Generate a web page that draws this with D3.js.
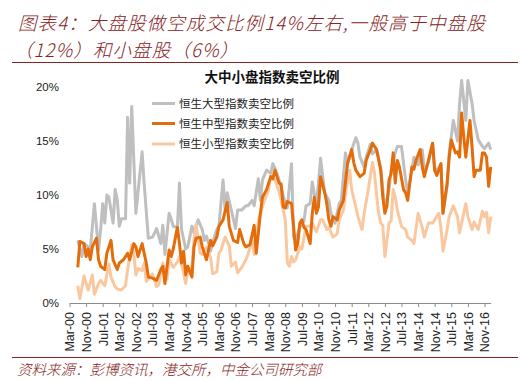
<!DOCTYPE html>
<html><head><meta charset="utf-8">
<script src="https://cdn.jsdelivr.net/npm/d3@7"></script>
<style>body{margin:0;background:#fff}svg{display:block}</style>
</head><body>
<svg id="c" width="520" height="381"></svg>
<script>
// ---- texts ----
const titleLine1 = "图表4：大盘股做空成交比例14%左右,一般高于中盘股";
const titleLine2 = "（12%）和小盘股（6%）";
const chartTitle = "大中小盘指数卖空比例";
const sourceText = "资料来源：彭博资讯，港交所，中金公司研究部";
const seriesNames = ["恒生大型指数卖空比例", "恒生中型指数卖空比例", "恒生小型指数卖空比例"];
const xTickLabels = ["Mar-00","Nov-00","Jul-01","Mar-02","Nov-02","Jul-03","Mar-04","Nov-04","Jul-05","Mar-06","Nov-06","Jul-07","Mar-08","Nov-08","Jul-09","Mar-10","Nov-10","Jul-11","Mar-12","Nov-12","Jul-13","Mar-14","Nov-14","Jul-15","Mar-16","Nov-16"];
const yTicks = [0, 5, 10, 15, 20];

// ---- series: [month, short-selling ratio %] ----
const largeCap = [["2000-07",5.8],["2000-09",4.3],["2000-10",5.5],["2000-12",5.2],["2001-01",4.9],["2001-03",9.2],["2001-05",4.9],["2001-06",6.8],["2001-07",9.2],["2001-08",7.4],["2001-09",10.0],["2001-10",9.8],["2001-12",7.4],["2002-01",10.5],["2002-02",9.6],["2002-03",7.1],["2002-04",7.8],["2002-06",7.8],["2002-07",17.2],["2002-08",11.1],["2002-09",18.2],["2002-11",8.3],["2002-12",10.2],["2003-02",14.0],["2003-03",11.0],["2003-05",6.0],["2003-07",6.1],["2003-08",6.5],["2003-09",6.9],["2003-11",5.5],["2003-12",7.2],["2004-01",4.5],["2004-03",8.3],["2004-04",7.8],["2004-05",7.1],["2004-07",7.0],["2004-08",11.1],["2004-09",6.8],["2004-11",5.0],["2004-12",5.2],["2005-02",7.1],["2005-03",6.5],["2005-05",7.7],["2005-07",6.8],["2005-08",5.8],["2005-09",6.2],["2005-11",4.8],["2005-12",5.6],["2006-02",6.8],["2006-03",7.1],["2006-05",11.4],["2006-06",8.6],["2006-07",10.2],["2006-09",8.6],["2006-11",6.9],["2006-12",8.6],["2007-02",8.6],["2007-04",9.0],["2007-05",9.0],["2007-07",9.5],["2007-08",9.0],["2007-10",11.5],["2007-11",9.5],["2007-12",11.4],["2008-02",12.3],["2008-04",12.0],["2008-05",12.9],["2008-07",12.0],["2008-08",11.4],["2008-11",9.2],["2008-12",8.8],["2009-02",12.9],["2009-03",6.1],["2009-04",5.8],["2009-06",7.0],["2009-08",7.6],["2009-09",9.0],["2009-11",9.2],["2009-12",11.2],["2010-02",9.0],["2010-04",13.4],["2010-06",10.2],["2010-08",9.5],["2010-09",8.3],["2010-11",7.4],["2011-01",9.2],["2011-02",9.5],["2011-04",13.9],["2011-05",12.9],["2011-07",14.2],["2011-09",15.3],["2011-10",14.8],["2011-11",13.5],["2012-01",12.6],["2012-02",13.5],["2012-04",14.7],["2012-05",13.8],["2012-07",14.2],["2012-09",12.5],["2012-11",8.6],["2013-01",10.5],["2013-02",12.3],["2013-04",13.9],["2013-05",14.5],["2013-07",14.5],["2013-09",11.4],["2013-10",10.2],["2013-12",12.3],["2014-01",13.5],["2014-03",12.8],["2014-05",14.2],["2014-06",12.3],["2014-08",13.0],["2014-10",14.8],["2014-11",12.3],["2015-01",12.5],["2015-02",12.9],["2015-03",8.3],["2015-05",10.8],["2015-06",13.9],["2015-08",16.9],["2015-10",15.0],["2015-11",18.5],["2015-12",20.6],["2016-02",16.9],["2016-03",20.6],["2016-05",18.5],["2016-06",16.9],["2016-08",15.1],["2016-10",14.5],["2016-11",14.3],["2017-01",14.8],["2017-02",14.2]];

const midCap = [["2000-07",3.3],["2000-08",5.7],["2000-10",5.5],["2000-11",4.3],["2000-12",5.0],["2001-01",4.0],["2001-02",5.2],["2001-04",6.0],["2001-05",4.0],["2001-06",3.4],["2001-08",3.1],["2001-09",4.6],["2001-10",5.2],["2001-11",5.8],["2001-12",4.0],["2002-02",3.1],["2002-03",3.7],["2002-05",4.0],["2002-06",4.3],["2002-07",4.6],["2002-08",4.0],["2002-10",5.5],["2002-11",5.2],["2002-12",4.3],["2003-02",5.5],["2003-03",4.6],["2003-04",3.7],["2003-05",2.4],["2003-07",2.3],["2003-09",2.1],["2003-11",3.1],["2003-12",3.4],["2004-01",1.8],["2004-03",4.9],["2004-04",4.3],["2004-05",5.0],["2004-07",7.0],["2004-08",5.5],["2004-09",3.7],["2004-10",4.8],["2004-11",2.6],["2004-12",3.4],["2005-02",2.4],["2005-03",5.2],["2005-04",6.0],["2005-06",6.1],["2005-07",5.2],["2005-09",4.0],["2005-11",5.8],["2005-12",5.3],["2006-02",6.1],["2006-03",7.1],["2006-05",7.7],["2006-07",9.3],["2006-08",7.1],["2006-10",5.8],["2006-12",5.6],["2007-01",6.8],["2007-03",5.5],["2007-04",5.2],["2007-06",5.4],["2007-08",7.2],["2007-09",4.6],["2007-11",8.3],["2007-12",9.8],["2008-02",10.5],["2008-04",11.7],["2008-05",11.5],["2008-06",12.3],["2008-08",11.1],["2008-09",11.0],["2008-10",8.9],["2008-11",8.8],["2008-12",9.4],["2009-02",9.2],["2009-03",7.1],["2009-04",4.9],["2009-05",5.5],["2009-06",7.4],["2009-07",7.7],["2009-08",7.0],["2009-09",6.8],["2009-11",5.5],["2009-12",8.3],["2010-01",9.8],["2010-02",8.3],["2010-03",8.9],["2010-04",11.7],["2010-06",10.2],["2010-07",9.2],["2010-08",7.7],["2010-09",7.1],["2010-10",8.0],["2010-12",7.7],["2011-01",8.6],["2011-03",9.5],["2011-05",12.9],["2011-07",14.2],["2011-08",13.0],["2011-09",12.3],["2011-11",11.7],["2012-01",12.0],["2012-02",13.2],["2012-04",14.2],["2012-05",14.8],["2012-07",14.2],["2012-09",12.3],["2012-10",9.8],["2012-11",8.3],["2012-12",9.0],["2013-01",11.4],["2013-02",12.0],["2013-03",13.9],["2013-04",11.1],["2013-05",13.2],["2013-06",12.6],["2013-08",10.5],["2013-09",10.2],["2013-10",9.5],["2013-12",12.6],["2014-01",12.4],["2014-02",13.2],["2014-04",14.2],["2014-05",12.6],["2014-06",11.7],["2014-08",13.2],["2014-10",14.8],["2014-11",12.3],["2014-12",11.8],["2015-02",12.9],["2015-03",8.3],["2015-05",11.1],["2015-06",13.5],["2015-07",15.1],["2015-09",13.9],["2015-10",14.0],["2015-11",13.5],["2015-12",17.6],["2016-01",15.4],["2016-02",13.5],["2016-04",16.9],["2016-05",14.5],["2016-06",11.7],["2016-07",12.3],["2016-09",12.3],["2016-10",13.9],["2016-11",13.9],["2016-12",13.5],["2017-01",10.8],["2017-02",12.6]];

const smallCap = [["2000-07",1.6],["2000-08",0.4],["2000-10",2.5],["2000-12",1.2],["2001-02",2.6],["2001-03",0.8],["2001-05",1.8],["2001-06",2.1],["2001-08",1.6],["2001-10",3.6],["2001-11",2.4],["2002-01",1.5],["2002-02",1.3],["2002-04",1.2],["2002-06",1.6],["2002-07",3.1],["2002-09",5.4],["2002-10",4.5],["2002-11",2.6],["2002-12",3.2],["2003-02",3.0],["2003-03",3.7],["2003-04",2.0],["2003-05",2.2],["2003-07",2.7],["2003-09",1.5],["2003-10",1.7],["2003-12",3.7],["2004-02",2.2],["2004-03",4.0],["2004-05",3.3],["2004-07",3.8],["2004-08",4.3],["2004-10",2.8],["2004-11",1.8],["2004-12",2.8],["2005-02",3.4],["2005-03",5.8],["2005-04",7.3],["2005-06",4.6],["2005-07",4.5],["2005-09",5.2],["2005-11",4.2],["2005-12",2.7],["2006-02",2.9],["2006-03",4.6],["2006-04",4.9],["2006-06",6.1],["2006-08",5.3],["2006-09",3.4],["2006-11",3.8],["2006-12",2.8],["2007-02",3.3],["2007-04",4.0],["2007-05",4.5],["2007-07",5.8],["2007-08",4.5],["2007-09",4.8],["2007-10",7.7],["2007-12",8.9],["2008-01",9.5],["2008-03",10.5],["2008-04",11.8],["2008-06",11.4],["2008-08",10.3],["2008-09",9.5],["2008-11",7.7],["2008-12",3.7],["2009-01",3.4],["2009-02",4.3],["2009-03",3.8],["2009-04",4.0],["2009-06",5.2],["2009-07",5.0],["2009-09",7.1],["2009-11",7.1],["2009-12",7.4],["2010-02",6.6],["2010-04",7.7],["2010-05",7.7],["2010-07",6.8],["2010-08",7.0],["2010-10",6.1],["2010-12",6.4],["2011-01",7.7],["2011-03",8.6],["2011-05",11.4],["2011-06",12.3],["2011-07",10.5],["2011-09",8.9],["2011-10",8.0],["2011-12",6.8],["2012-01",8.3],["2012-03",10.5],["2012-05",13.0],["2012-06",12.0],["2012-07",10.0],["2012-08",8.3],["2012-09",7.4],["2012-10",7.2],["2012-11",4.3],["2013-01",7.4],["2013-02",7.6],["2013-03",10.5],["2013-04",9.8],["2013-05",8.6],["2013-07",7.1],["2013-09",6.8],["2013-10",6.1],["2013-12",5.8],["2014-01",5.5],["2014-03",8.3],["2014-05",7.0],["2014-06",6.1],["2014-08",7.4],["2014-10",7.4],["2014-11",7.7],["2015-01",8.3],["2015-02",7.0],["2015-03",4.8],["2015-05",6.8],["2015-06",8.0],["2015-08",9.0],["2015-10",8.0],["2015-11",6.5],["2016-01",8.3],["2016-02",9.2],["2016-03",8.0],["2016-05",6.8],["2016-06",7.5],["2016-08",6.8],["2016-10",8.5],["2016-11",8.0],["2016-12",8.4],["2017-01",6.5],["2017-02",8.0]];

const colors = ["#BFBFBF", "#E46C0A", "#FAC8A0"];

// ---- drawing ----
const svg = d3.select("#c");
const red = "#862222";
const cjk = "'Noto Sans CJK SC', 'Noto Sans', sans-serif";

const monthIndex = s => { const [y, m] = s.split("-").map(Number); return (y - 2000) * 12 + (m - 3); };

const x = d3.scaleLinear().domain([0, 203]).range([69.5, 490.7]);
const y = d3.scaleLinear().domain([0, 20]).range([303, 87]);

// title
svg.append("text").attr("x", 18).attr("y", 29.5).attr("fill", red)
  .attr("font-family", cjk).attr("font-size", 18.5).attr("font-weight", 300).attr("font-style", "italic")
  .attr("letter-spacing", 1.1).text(titleLine1);
svg.append("text").attr("x", 14).attr("y", 57).attr("fill", red)
  .attr("font-family", cjk).attr("font-size", 18.5).attr("font-weight", 300).attr("font-style", "italic")
  .attr("letter-spacing", 1.1).text(titleLine2);
svg.append("line").attr("x1", 12).attr("x2", 518).attr("y1", 62.5).attr("y2", 62.5).attr("stroke", red).attr("stroke-width", 1);

// chart title
svg.append("text").attr("x", 272).attr("y", 82).attr("text-anchor", "middle")
  .attr("font-family", cjk).attr("font-weight", "bold").attr("font-size", 13.5).attr("fill", "#111").text(chartTitle);

// axes
const xAxis = d3.axisBottom(x)
  .tickValues(xTickLabels.map((d, i) => i * 8))
  .tickFormat((d, i) => xTickLabels[i])
  .tickSize(4).tickSizeOuter(0);
const gx = svg.append("g").attr("transform", "translate(0,303)").call(xAxis);
gx.select(".domain").attr("stroke", "#8c8c8c");
gx.selectAll(".tick line").attr("stroke", "#8c8c8c");
gx.selectAll("text")
  .attr("transform", "rotate(-90)")
  .attr("text-anchor", "end")
  .attr("x", -9).attr("y", 0).attr("dy", "0.35em")
  .attr("font-family", "'Liberation Sans', Arial, sans-serif").attr("font-size", 12.5).attr("fill", "#222");

const yAxis = d3.axisLeft(y).tickValues(yTicks).tickFormat(d => d + "%").tickSize(0).tickPadding(0);
const gy = svg.append("g").attr("transform", "translate(59,0)").call(yAxis);
gy.select(".domain").remove();
gy.selectAll("text").attr("font-family", "'Liberation Sans', Arial, sans-serif").attr("font-size", 11.5).attr("fill", "#222");

// lines
const line = d3.line().x(d => x(monthIndex(d[0]))).y(d => y(d[1]));
const drawOrder = [[largeCap, 0], [smallCap, 2], [midCap, 1]];
drawOrder.forEach(([data, ci]) => {
  svg.append("path").datum(data).attr("d", line)
    .attr("fill", "none").attr("stroke", colors[ci])
    .attr("stroke-width", 3).attr("stroke-linejoin", "round");
});

// legend
const legendY = [103.5, 123.5, 144];
seriesNames.forEach((name, i) => {
  svg.append("line").attr("x1", 152).attr("x2", 175).attr("y1", legendY[i]).attr("y2", legendY[i])
    .attr("stroke", colors[i]).attr("stroke-width", 3);
  svg.append("text").attr("x", 179).attr("y", legendY[i]).attr("dy", "0.36em")
    .attr("font-family", cjk).attr("font-size", 11.5).attr("fill", "#222").text(name);
});

// source
svg.append("line").attr("x1", 12).attr("x2", 518).attr("y1", 357.5).attr("y2", 357.5).attr("stroke", red).attr("stroke-width", 1);
svg.append("text").attr("x", 17).attr("y", 375).attr("fill", red)
  .attr("font-family", cjk).attr("font-size", 14.5).attr("font-weight", 300).attr("font-style", "italic").text(sourceText);
</script>
</body></html>
